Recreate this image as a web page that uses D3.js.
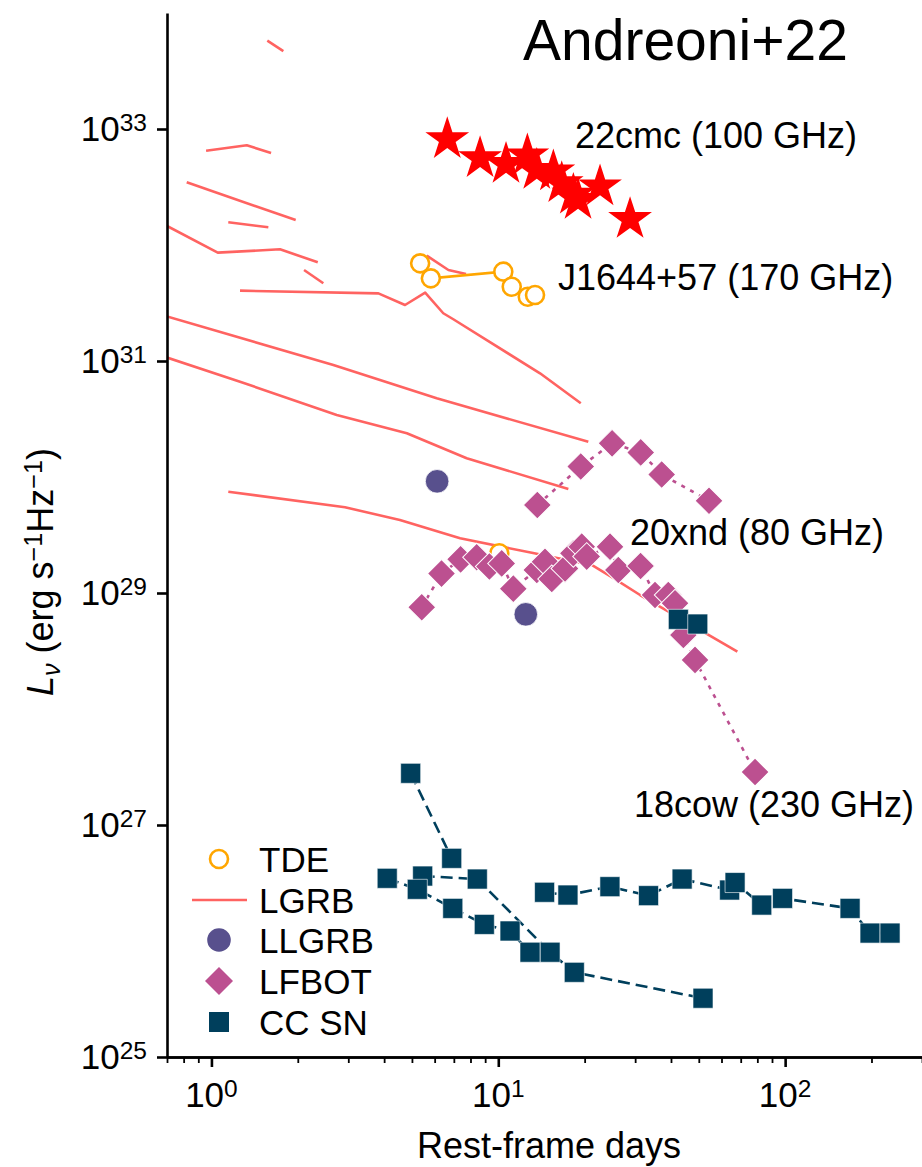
<!DOCTYPE html>
<html>
<head>
<meta charset="utf-8">
<script src="https://cdn.jsdelivr.net/npm/d3@7"></script>
<style>
  html, body { margin: 0; padding: 0; background: #ffffff; }
  svg { display: block; font-family: "Liberation Sans", Arial, Helvetica, sans-serif; }
</style>
</head>
<body>
<svg id="chart" width="922" height="1167"></svg>
<script>
// ---------------- data: rest-frame days, L_nu (erg s^-1 Hz^-1) ----------------
const xTicksMajor = [1, 10, 100];
const xTicksMinor = [0.7, 0.8, 0.9, 2, 3, 4, 5, 6, 7, 8, 9, 20, 30, 40, 50, 60, 70, 80, 90, 200, 300];
const yTicksMajor = [1e25, 1e27, 1e29, 1e31, 1e33];

// long GRB afterglows (solid)
const lgrbCurves = [
  [[1.566, 5.77e33], [1.781, 4.70e33]],
  [[0.958, 6.50e32], [1.328, 7.24e32], [1.614, 6.21e32]],
  [[0.820, 3.47e32], [1.967, 1.64e32]],
  [[1.145, 1.57e32], [1.579, 1.42e32]],
  [[0.70, 1.46e32], [1.052, 8.59e31], [1.734, 9.18e31], [2.348, 7.10e31]],
  [[2.103, 6.09e31], [2.455, 4.68e31]],
  [[1.258, 4.04e31], [3.82, 3.83e31], [4.73, 3.04e31], [5.56, 3.88e31], [6.43, 2.58e31], [6.97, 2.29e31], [13.98, 7.83e30], [19.39, 4.32e30]],
  [[5.63, 8.09e31], [6.70, 6.09e31], [7.72, 5.62e31]],
  [[0.70, 2.42e31], [2.661, 9.24e30], [6.10, 4.77e30], [20.60, 2.01e30]],
  [[0.70, 1.07e31], [1.258, 6.63e30], [2.734, 3.42e30], [4.80, 2.38e30], [7.76, 1.45e30], [17.55, 7.88e29]],
  [[1.145, 7.47e29], [2.922, 5.48e29], [4.54, 4.26e29], [7.36, 2.96e29], [13.22, 2.21e29], [19.28, 1.82e29], [21.23, 1.74e29], [25.12, 1.35e29], [31.21, 9.61e28], [68.15, 3.12e28]]
];

// tidal disruption events
const tdeJ1644 = [[5.34, 6.95e31], [5.82, 5.16e31], [10.41, 5.89e31], [11.14, 4.37e31], [12.67, 3.58e31], [13.43, 3.71e31]];
const tdeSingle = [[10.08, 2.20e29]];

// low-luminosity GRBs
const llgrb = [[6.12, 9.18e29], [12.47, 6.55e28]];

// luminous fast blue optical transients
const lfbot20xnd = [[13.68, 5.74e29], [19.39, 1.23e30], [24.93, 1.95e30], [31.38, 1.63e30], [37.13, 1.05e30], [54.28, 6.25e29]];
const lfbot18cow = [
  [5.41, 7.53e28], [6.34, 1.47e29], [7.39, 1.95e29], [8.41, 2.03e29], [9.31, 1.69e29], [10.28, 1.80e29],
  [11.28, 1.09e29], [13.62, 1.58e29], [14.55, 1.86e29], [15.36, 1.32e29], [17.09, 1.63e29], [18.27, 2.20e29],
  [19.54, 2.51e29], [20.34, 2.06e29], [24.52, 2.51e29], [26.21, 1.58e29], [31.33, 1.71e29], [35.19, 9.61e28],
  [39.15, 9.61e28], [41.32, 8.15e28], [44.18, 4.35e28], [48.52, 2.65e28], [78.55, 2.86e27]
];

// core-collapse supernovae (dashed)
const ccsnCurves = [
  [[4.95, 2.79e27], [6.88, 5.16e26]],
  [[5.45, 3.63e26], [8.45, 3.42e26], [15.15, 8.0e25], [18.41, 5.37e25], [51.73, 3.21e25]],
  [[4.10, 3.47e26], [5.22, 2.79e26], [6.94, 1.91e26], [8.94, 1.39e26], [10.99, 1.22e26], [12.90, 8.0e25]],
  [[14.50, 2.63e26], [17.49, 2.49e26], [24.50, 2.94e26], [33.40, 2.46e26], [43.74, 3.42e26], [64.05, 2.75e26],
   [66.90, 3.19e26], [82.87, 2.04e26], [97.95, 2.33e26], [168.4, 1.91e26], [197.7, 1.17e26], [232.1, 1.17e26]],
  [[42.44, 5.93e28], [49.58, 5.40e28]]
];

// AT2022cmc at 100 GHz
const at22cmc = [
  [6.64, 8.15e32], [8.64, 5.59e32], [10.64, 4.99e32], [12.63, 5.90e32], [13.62, 4.43e32], [15.56, 4.30e32],
  [16.64, 3.40e32], [18.27, 2.70e32], [18.97, 2.44e32], [22.63, 3.19e32], [28.8, 1.67e32]
];

const legendLabels = ["TDE", "LGRB", "LLGRB", "LFBOT", "CC SN"];

// ---------------- styling ----------------
const C = { tde: "#ffa600", lgrb: "#ff6361", llgrb: "#58508d", lfbot: "#bc5090", ccsn: "#003f5c", star: "#ff0000" };
const FS = { tick: 35, label: 36, note: 36, legend: 35, title: 57 };

const svg = d3.select("#chart");
const M = { left: 167, right: 922, top: 13, bottom: 1057 };

const x = d3.scaleLog().domain([0.7, 300]).range([M.left, M.right]);
const y = d3.scaleLog().domain([1e25, 1e34]).range([M.bottom, M.top]);

svg.append("defs").append("clipPath").attr("id", "plotArea")
  .append("rect").attr("x", M.left).attr("y", M.top)
  .attr("width", M.right - M.left).attr("height", M.bottom - M.top);

const plot = svg.append("g").attr("clip-path", "url(#plotArea)");
const line = d3.line().x(d => x(d[0])).y(d => y(d[1]));

const sym = (type, size) => d3.symbol().type(type).size(size)();

// LGRB curves
plot.append("g").selectAll("path").data(lgrbCurves).join("path")
  .attr("d", line).attr("fill", "none").attr("stroke", C.lgrb)
  .attr("stroke-width", 2.6).attr("stroke-linejoin", "round");

// TDEs
plot.append("path").datum(tdeJ1644).attr("d", line)
  .attr("fill", "none").attr("stroke", C.tde).attr("stroke-width", 2.6);
plot.append("g").selectAll("circle").data(tdeJ1644.concat(tdeSingle)).join("circle")
  .attr("cx", d => x(d[0])).attr("cy", d => y(d[1])).attr("r", 9)
  .attr("fill", "#ffffff").attr("stroke", C.tde).attr("stroke-width", 2.6);

// LLGRBs
plot.append("g").selectAll("circle").data(llgrb).join("circle")
  .attr("cx", d => x(d[0])).attr("cy", d => y(d[1])).attr("r", 11.8)
  .attr("fill", C.llgrb).attr("stroke", "#ffffff").attr("stroke-width", 0.8);

// LFBOTs
const diamond = sym(d3.symbolSquare, 392);
[lfbot20xnd, lfbot18cow].forEach(series => {
  plot.append("path").datum(series).attr("d", line)
    .attr("fill", "none").attr("stroke", C.lfbot).attr("stroke-width", 2.6)
    .attr("stroke-dasharray", "4,6");
  plot.append("g").selectAll("path").data(series).join("path")
    .attr("d", diamond)
    .attr("transform", d => `translate(${x(d[0])},${y(d[1])}) rotate(45)`)
    .attr("fill", C.lfbot).attr("stroke", "#ffffff").attr("stroke-width", 1);
});

// CC SNe
const square = sym(d3.symbolSquare, 400);
ccsnCurves.forEach(series => {
  plot.append("path").datum(series).attr("d", line)
    .attr("fill", "none").attr("stroke", C.ccsn).attr("stroke-width", 2.6)
    .attr("stroke-dasharray", "12,6");
  plot.append("g").selectAll("path").data(series).join("path")
    .attr("d", square)
    .attr("transform", d => `translate(${x(d[0])},${y(d[1])})`)
    .attr("fill", C.ccsn).attr("stroke", "#ffffff").attr("stroke-width", 0.6);
});

// AT2022cmc stars
const star = sym(d3.symbolStar, 594);
plot.append("g").selectAll("path").data(at22cmc).join("path")
  .attr("d", star)
  .attr("transform", d => `translate(${x(d[0])},${y(d[1])})`)
  .attr("fill", C.star);

// ---------------- axes ----------------
const axisStyle = g => {
  g.select(".domain").attr("stroke", "#000").attr("stroke-width", 2.6);
  g.selectAll(".tick line").attr("stroke", "#000");
};

svg.append("g").attr("transform", `translate(0,${M.bottom})`)
  .call(d3.axisBottom(x).tickValues(xTicksMinor).tickSize(6).tickSizeOuter(0).tickFormat(""))
  .call(axisStyle)
  .call(g => g.selectAll(".tick line").attr("stroke-width", 1.8));

svg.append("g").attr("transform", `translate(0,${M.bottom})`)
  .call(d3.axisBottom(x).tickValues(xTicksMajor).tickSize(10).tickSizeOuter(0).tickFormat(""))
  .call(axisStyle)
  .call(g => g.selectAll(".tick line").attr("stroke-width", 2.6));

svg.append("g").attr("transform", `translate(${M.left},0)`)
  .call(d3.axisLeft(y).tickValues(yTicksMajor).tickSize(10).tickSizeOuter(0).tickFormat(""))
  .call(axisStyle)
  .call(g => g.selectAll(".tick line").attr("stroke-width", 2.6));

// power-of-ten tick labels
function powLabel(sel, exp) {
  sel.append("tspan").text("10");
  sel.append("tspan").attr("dy", -10).attr("font-size", FS.tick * 0.7).text(exp);
}
xTicksMajor.forEach(v => {
  svg.append("text").attr("x", x(v)).attr("y", 1107).attr("text-anchor", "middle")
    .attr("font-size", FS.tick).attr("fill", "#000")
    .call(powLabel, String(Math.round(Math.log10(v))));
});
yTicksMajor.forEach(v => {
  svg.append("text").attr("x", 147).attr("y", y(v) + 12).attr("text-anchor", "end")
    .attr("font-size", FS.tick).attr("fill", "#000")
    .call(powLabel, String(Math.round(Math.log10(v))));
});

// axis titles
svg.append("text").attr("x", 549).attr("y", 1158).attr("text-anchor", "middle")
  .attr("font-size", FS.label).text("Rest-frame days");

const yl = svg.append("text").attr("transform", "translate(53,572) rotate(-90)")
  .attr("text-anchor", "middle").attr("font-size", FS.label);
yl.append("tspan").attr("font-style", "italic").text("L");
yl.append("tspan").attr("font-style", "italic").attr("font-size", FS.label * 0.7).attr("dy", 7).text("ν");
yl.append("tspan").attr("dy", -7).text(" (erg s");
yl.append("tspan").attr("font-size", FS.label * 0.7).attr("dy", -11).text("−1");
yl.append("tspan").attr("dy", 11).text("Hz");
yl.append("tspan").attr("font-size", FS.label * 0.7).attr("dy", -11).text("−1");
yl.append("tspan").attr("dy", 11).text(")");

// ---------------- annotations ----------------
const notes = [
  { t: "22cmc (100 GHz)", px: 575, py: 148 },
  { t: "J1644+57 (170 GHz)", px: 558, py: 290 },
  { t: "20xnd (80 GHz)", px: 630, py: 545 },
  { t: "18cow (230 GHz)", px: 634, py: 817 }
];
svg.append("g").selectAll("text").data(notes).join("text")
  .attr("x", d => d.px).attr("y", d => d.py).attr("font-size", FS.note).text(d => d.t);

svg.append("text").attr("x", 523).attr("y", 60).attr("font-size", FS.title).text("Andreoni+22");

// ---------------- legend ----------------
const legRows = [859, 900, 940, 981, 1022];
const leg = svg.append("g");
leg.append("circle").attr("cx", 219).attr("cy", legRows[0]).attr("r", 9)
  .attr("fill", "#fff").attr("stroke", C.tde).attr("stroke-width", 2.6);
leg.append("line").attr("x1", 192).attr("x2", 247).attr("y1", legRows[1]).attr("y2", legRows[1])
  .attr("stroke", C.lgrb).attr("stroke-width", 2.6);
leg.append("circle").attr("cx", 219).attr("cy", legRows[2]).attr("r", 11.8).attr("fill", C.llgrb);
leg.append("path").attr("d", diamond).attr("transform", `translate(219,${legRows[3]}) rotate(45)`).attr("fill", C.lfbot);
leg.append("path").attr("d", square).attr("transform", `translate(219,${legRows[4]})`).attr("fill", C.ccsn);
leg.selectAll("text").data(legendLabels).join("text")
  .attr("x", 259).attr("y", (d, i) => legRows[i] + 12.5)
  .attr("font-size", FS.legend).text(d => d);
</script>
</body>
</html>
